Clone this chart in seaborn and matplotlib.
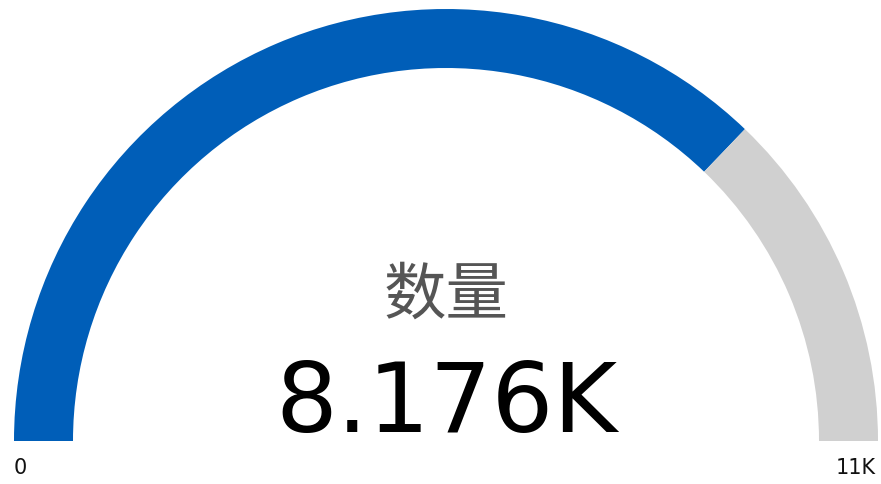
import matplotlib
matplotlib.use("Agg")
import matplotlib.pyplot as plt
import seaborn as sns

sns.set_theme(style="white")
plt.rcParams['font.family'] = ['DejaVu Sans']

title = "数量"
value = 8176
gauge_min = 0
gauge_max = 11000
value_label = "8.176K"
min_label = "0"
max_label = "11K"
colors = ["#005EB8", "#D0D0D0", "#FFFFFF"]

fig = plt.figure(figsize=(8.81, 4.84), dpi=100)
ax = fig.add_axes([0, 0, 1, 1])

cx, cy = 446, 484 - 441
r_out, width = 432, 59
span = gauge_max - gauge_min
ax.pie([value - gauge_min, gauge_max - value, span],
       colors=colors, startangle=180, counterclock=False,
       radius=r_out, center=(cx, cy),
       wedgeprops=dict(width=width, linewidth=0))
ax.set_xlim(0, 881)
ax.set_ylim(0, 484)
ax.set_aspect('auto')
ax.axis('off')

ax.text(cx, 484 - 296, title, ha='center', va='center', fontsize=45,
        color='#555555', family=['Noto Sans CJK SC', 'DejaVu Sans'])
ax.text(cx, 484 - 432, value_label, ha='center', va='baseline', fontsize=70,
        color='#000000')
ax.text(20, 484 - 468, min_label, ha='center', va='center', fontsize=15, color='#111111')
ax.text(856, 484 - 468, max_label, ha='center', va='center', fontsize=15, color='#111111')

fig.savefig("out.png", dpi=100)
